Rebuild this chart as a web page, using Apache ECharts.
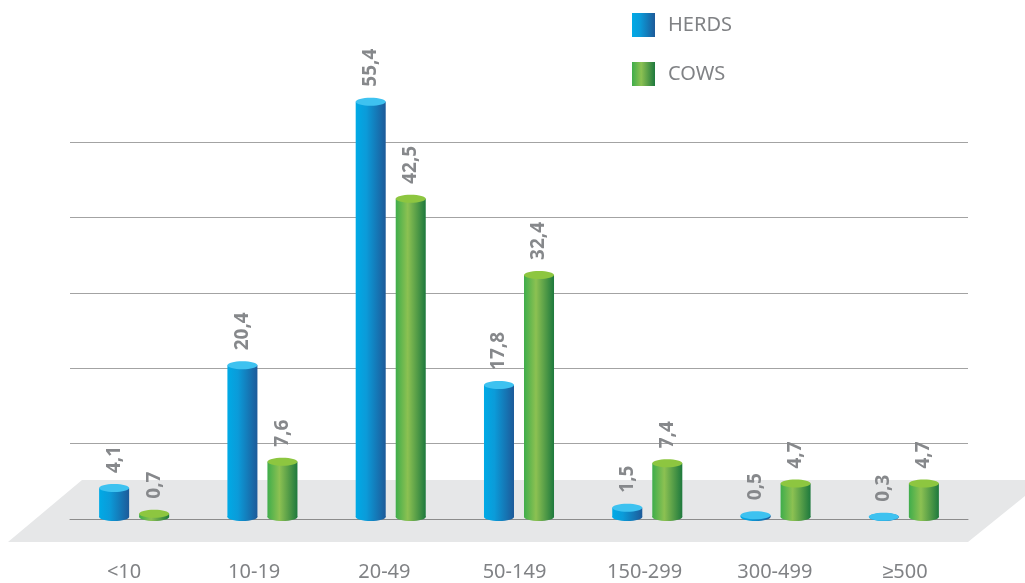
<!DOCTYPE html>
<html>
<head>
<meta charset="utf-8">
<script src="https://cdn.jsdelivr.net/npm/echarts@6/dist/echarts.min.js"></script>
<style>
  html, body { margin: 0; padding: 0; background: #fff; }
  #chart { width: 1025px; height: 583px; }
</style>
</head>
<body>
<div id="chart"></div>
<script>
var categories = ['<10', '10-19', '20-49', '50-149', '150-299', '300-499', '≥500'];
var herds = [4.1, 20.4, 55.4, 17.8, 1.5, 0.5, 0.3];
var cows = [0.7, 7.6, 42.5, 32.4, 7.4, 4.7, 4.7];
var seriesNames = ['HERDS', 'COWS'];

var myChart = echarts.init(document.getElementById('chart'));

var blueSide = new echarts.graphic.LinearGradient(0, 0, 1, 0, [
  { offset: 0, color: '#00aae6' },
  { offset: 0.35, color: '#0b9bd9' },
  { offset: 1, color: '#1d5a99' }
]);
var greenSide = new echarts.graphic.LinearGradient(0, 0, 1, 0, [
  { offset: 0, color: '#3fad4b' },
  { offset: 0.4, color: '#8cc152' },
  { offset: 1, color: '#1e793d' }
]);

// cylinder: body + bottom ellipse + top ellipse + rotated value label
function cylinder(offset, side, topColor) {
  return function (params, api) {
    var band = api.size([1, 0])[0];
    var w = band * 0.234;
    var top = api.coord([api.value(0), api.value(1)]);
    var base = api.coord([api.value(0), 0]);
    var cx = top[0] + band * offset;
    var ry = 4;
    var txt = String(api.value(1)).replace('.', ',');
    return {
      type: 'group',
      children: [
        { type: 'ellipse', shape: { cx: cx, cy: base[1] - 2, rx: w / 2, ry: ry }, style: { fill: side } },
        { type: 'rect', shape: { x: cx - w / 2, y: top[1], width: w, height: base[1] - 2 - top[1] }, style: { fill: side } },
        { type: 'ellipse', shape: { cx: cx, cy: top[1], rx: w / 2, ry: ry }, style: { fill: topColor } },
        {
          type: 'text', x: cx, y: top[1] - ry - 11, rotation: Math.PI / 2,
          style: {
            text: txt, fill: '#86888b', fontSize: 19, fontWeight: 'bold',
            fontFamily: '"Open Sans", sans-serif', align: 'left', verticalAlign: 'middle'
          }
        }
      ]
    };
  };
}

var option = {
  backgroundColor: '#fff',
  animation: false,
  legend: {
    orient: 'vertical',
    left: 632,
    top: 13,
    padding: 0,
    itemWidth: 23,
    itemHeight: 24,
    itemGap: 25,
    icon: 'rect',
    data: seriesNames,
    textStyle: { fontSize: 20, color: '#808285', fontFamily: '"Noto Sans", sans-serif', padding: [0, 0, 0, 8] }
  },
  graphic: [{
    type: 'polygon',
    z: -10,
    silent: true,
    shape: { points: [[82, 480], [1045, 480], [968, 542], [8, 542]] },
    style: { fill: '#e6e7e8' }
  }],
  grid: [
    { left: 70, right: 57, top: 67, bottom: 64 },
    { left: 59, right: 55, top: 67, bottom: 64 }
  ],
  xAxis: [{
    type: 'category',
    gridIndex: 0,
    data: categories,
    axisLine: { show: true, lineStyle: { color: '#8c8c8c', width: 1 } },
    axisTick: { show: false },
    axisLabel: { show: false }
  }, {
    type: 'category',
    gridIndex: 1,
    data: categories,
    axisLine: { show: false },
    axisTick: { show: false },
    axisLabel: { margin: 43, fontSize: 20, color: '#808285', fontFamily: '"Noto Sans", sans-serif' }
  }],
  yAxis: [{
    type: 'value',
    gridIndex: 0,
    min: 0,
    max: 60,
    interval: 10,
    axisLine: { show: false },
    axisTick: { show: false },
    axisLabel: { show: false },
    splitLine: { show: true, showMinLine: false, showMaxLine: false, lineStyle: { color: '#a3a3a3', width: 1 } }
  }, {
    type: 'value',
    gridIndex: 1,
    min: 0,
    max: 60,
    show: false,
    splitLine: { show: false }
  }],
  series: [{
    name: seriesNames[0],
    type: 'custom',
    xAxisIndex: 0,
    yAxisIndex: 0,
    itemStyle: { color: blueSide },
    renderItem: cylinder(-0.156, blueSide, '#3ec2f0'),
    data: herds.map(function (v, i) { return [i, v]; }),
    z: 5
  }, {
    name: seriesNames[1],
    type: 'custom',
    xAxisIndex: 0,
    yAxisIndex: 0,
    itemStyle: { color: greenSide },
    renderItem: cylinder(0.156, greenSide, '#8dc640'),
    data: cows.map(function (v, i) { return [i, v]; }),
    z: 5
  }]
};
myChart.setOption(option);
</script>
</body>
</html>
